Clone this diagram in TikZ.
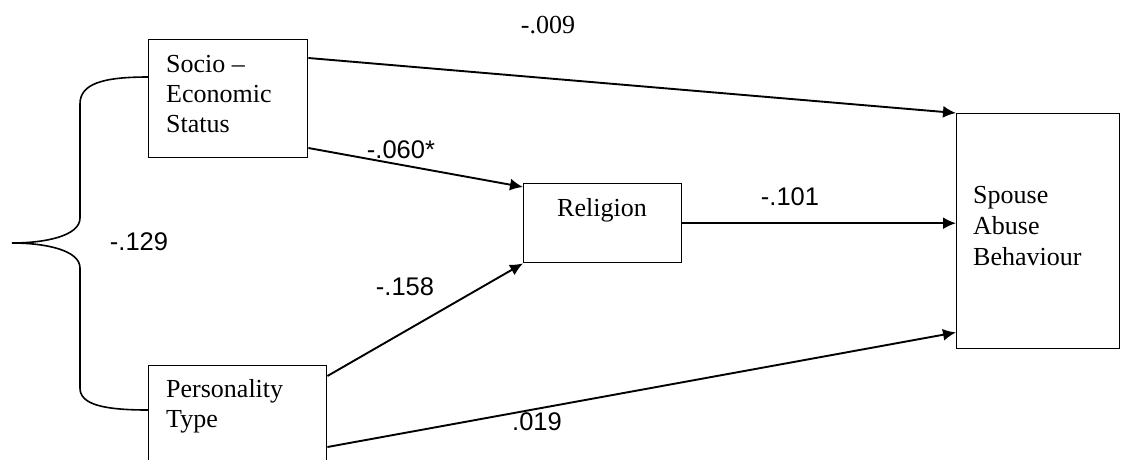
\documentclass[tikz,border=0pt]{standalone}
\usepackage{fontspec}
\setmainfont{Liberation Serif}
\newfontfamily\arialf{Liberation Sans}
\usetikzlibrary{arrows.meta,calc}
\begin{document}
\begin{tikzpicture}[x=1pt,y=-1pt,
  box/.style={draw,line width=1.4pt,inner sep=0pt,anchor=north west},
  conn/.style={line width=1.9pt,-{Latex[length=13pt,width=12pt]}},
  wt/.style={font=\arialf\fontsize{25.5}{30}\selectfont,inner sep=0pt},
  wtserif/.style={font=\fontsize{26}{30}\selectfont,inner sep=0pt},
  btxt/.style={font=\fontsize{26}{30}\selectfont,align=left,inner sep=0pt,anchor=base west},
  brace/.style={line width=1.6pt}]
\path[use as bounding box, clip] (0,0) rectangle (1121,459);
% boxes
\node[box,minimum width=159pt,minimum height=118pt] (ses) at (148,39) {};
\node[box,minimum width=178pt,minimum height=120pt] (pers) at (148,365) {};
\node[box,minimum width=158pt,minimum height=79pt] (rel) at (523,183) {};
\node[box,minimum width=163pt,minimum height=235pt] (sab) at (956,113) {};
% box texts (anchor = baseline of last line)
\node[btxt] (sest) at (166,132) {Socio –\\Economic\\Status};
\node[btxt] (perst) at (166,427) {Personality\\Type};
\node[btxt,anchor=base] (relt) at (602,216) {Religion};
\node[btxt,font=\fontsize{26}{31}\selectfont] (sabt) at (973,265) {Spouse\\Abuse\\Behaviour};
% connectors
\draw[conn] ($(ses.north east)+(0,19)$) -- (sab.north west);
\draw[conn] ($(ses.north east)+(0,109)$) -- ($(rel.north west)+(0,4)$);
\draw[conn] (rel.east) -- (sab.west |- rel.east);
\draw[conn] ($(pers.north east)+(0,11)$) -- (rel.south west);
\draw[conn] ($(pers.north east)+(0,82)$) -- ($(sab.south west)+(0,-17)$);
% brace
\coordinate (bt) at ($(ses.north west)+(0,38)$);
\coordinate (bb) at ($(pers.north west)+(0,45)$);
\coordinate (tip) at (12,243);
\draw[brace] (bt) .. controls (102,77) and (80,84) .. (80,104) -- (80,218)
  .. controls (80,236) and (45,243) .. (tip)
  .. controls (45,243) and (80,250) .. (80,268) -- (80,388)
  .. controls (80,404) and (102,410) .. (bb);
% weights
\node[wtserif] (w1) at (548,25) {-.009};
\node[wt] (w2) at (401,150) {-.060*};
\node[wt] (w3) at (790,197) {-.101};
\node[wt] (w4) at (139,242) {-.129};
\node[wt] (w5) at (405,287) {-.158};
\node[wt] (w6) at (537,422) {.019};
\end{tikzpicture}
\end{document}
